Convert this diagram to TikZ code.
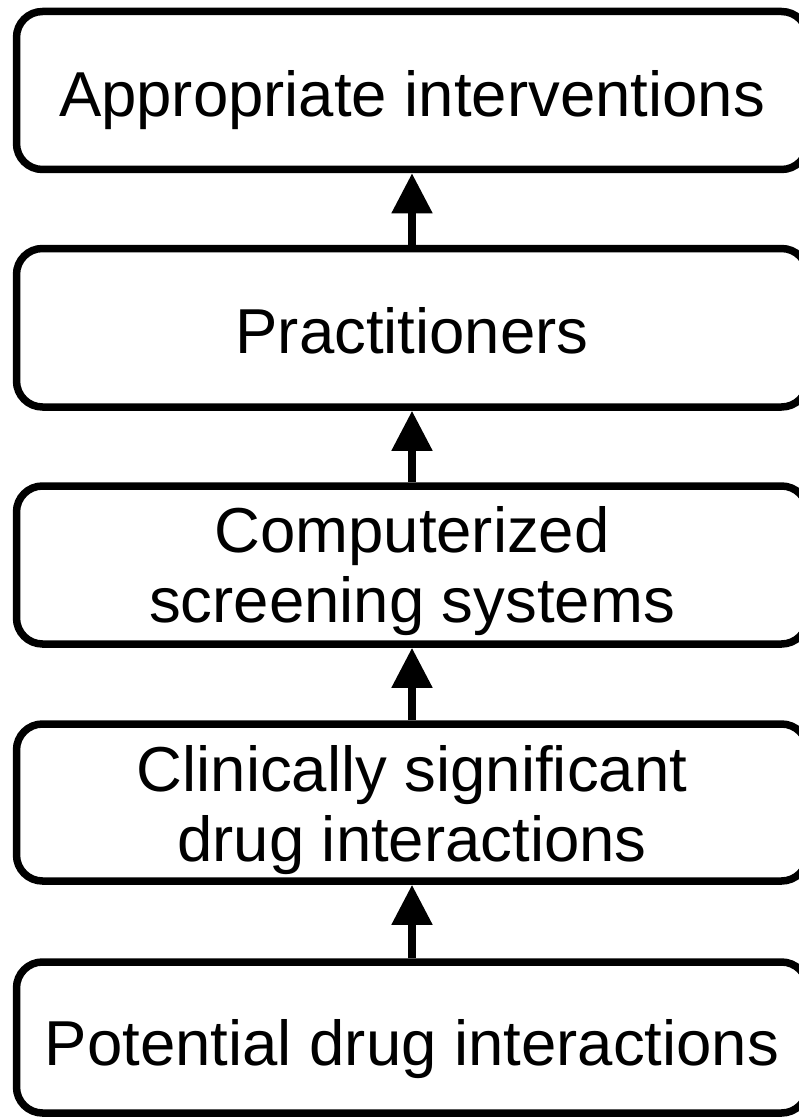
\documentclass[tikz,border=0pt]{standalone}
\usepackage{fontspec}
\setmainfont{Liberation Sans}
\usetikzlibrary{arrows.meta}

\tikzset{
  stage/.style={draw=black, line width=7.5pt, rounded corners=26pt,
    minimum width=791pt, inner sep=0pt, fill=white},
  caption/.style={inner sep=0pt, anchor=base, align=center,
    font=\fontsize{63.5}{70}\selectfont},
  flow/.style={line width=8pt, -{Triangle[width=39pt,length=40pt]}}
}

\begin{document}
\begin{tikzpicture}[x=1pt, y=-1pt]
  \useasboundingbox (0,0) rectangle (799,1118);

  % stage boxes, from the top of the chain downwards
  \node[stage, minimum height=158pt]   (b1) at (412,90.5)   {};
  \node[stage, minimum height=158.5pt] (b2) at (412,327.75) {};
  \node[stage, minimum height=158pt]   (b3) at (412,565)    {};
  \node[stage, minimum height=157pt]   (b4) at (412,802.5)  {};
  \node[stage, minimum height=151pt]   (b5) at (412,1037.5) {};

  % captions, anchored on the baseline of their last line
  \node[caption] (t1) at (412,117)  {Appropriate interventions};
  \node[caption] (t2) at (412,353)  {Practitioners};
  \node[caption] (t3) at (412,622)  {Computerized\\screening systems};
  \node[caption] (t4) at (412,861)  {Clinically significant\\drug interactions};
  \node[caption] (t5) at (412,1065) {Potential drug interactions};

  % upward flow between stages
  \draw[flow] (b2.north) -- (b1.south);
  \draw[flow] (b3.north) -- (b2.south);
  \draw[flow] (b4.north) -- (b3.south);
  \draw[flow] (b5.north) -- (b4.south);
\end{tikzpicture}
\end{document}
